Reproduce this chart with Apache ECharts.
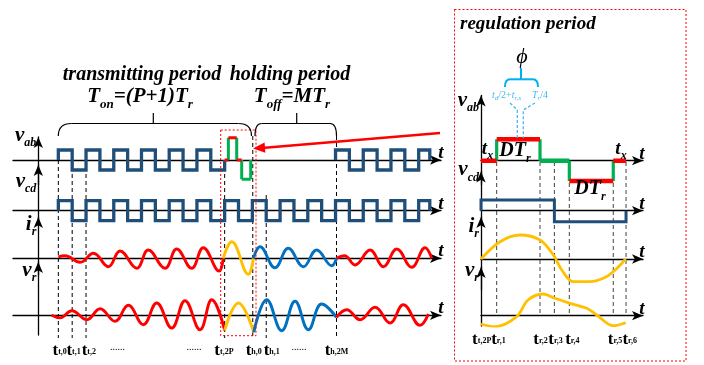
<!DOCTYPE html>
<html><head><meta charset="utf-8">
<script src="https://cdn.jsdelivr.net/npm/echarts@6/dist/echarts.min.js"></script>
<style>html,body{margin:0;padding:0;background:#fff}#c{width:704px;height:365px}</style>
</head><body><div id="c"></div>
<script>
// ================= DATA =================
// Left panel: time in units of Tr/2 (0 = t_t,0). Right panel: time as fraction of Tr (0 = t_t,2P).
// Square waves: edge times and level after each edge
const vabTxEdges   = [0,0,1,2,3,4,5,6,7,8,9,10,11,12];
const vabTxLevels  = [0,10,-10,10,-10,10,-10,10,-10,10,-10,10,-10,0];
const vabHoldEdges = [20,20,21,22,23,24,25,26,26.8];
const vabHoldLevels= [0,10,-10,10,-10,10,-10,10,0];
const vabPulseEdges  = [12,12.27,12.87,13.23,13.88];
const vabPulseLevels = [0,22.3,0,-19.3,0];
const vcdEdges  = [0,0,1,2,3,4,5,6,7,8,9,10,11,12,13,14,15,16,17,18,19,20,21,22,23,24,25,26,26.8];
const vcdLevels = [0,10,-10,10,-10,10,-10,10,-10,10,-10,10,-10,10,-10,10,-10,10,-10,10,-10,10,-10,10,-10,10,-10,10,0];
// Resonant current i_r: [time, value] extremes
const irTx     = [[0,1.5],[0.48,2.6],[1.57,-4],[2.53,5],[3.61,-8.4],[4.45,7.3],[5.66,-10],[6.49,8.3],[7.7,-10],[8.54,9.3],[9.62,-10],[10.46,10.6],[11.6,-12.7],[11.9,0]];
const irReg    = [[11.9,0],[12.51,16.6],[13.71,-16],[14.07,0]];
const irHold   = [[14.07,0],[14.55,11.6],[15.63,-9.4],[16.59,10],[17.68,-8.4],[18.64,8.3],[19.73,-7.4],[20.07,0]];
const irHold2  = [[20.07,0],[20.65,2.6],[21.4,-6.7],[22.49,8.3],[23.45,-8.4],[24.42,9.3],[25.5,-9],[26.46,10.6],[26.94,0]];
// Resonant voltage v_r
const vrTx     = [[-0.48,0],[0.12,-2.6],[0.97,4.6],[2.05,-4.4],[3.01,6.6],[4.09,-6],[5.05,10],[6.13,-9.4],[7.1,12.3],[8.18,-12.7],[9.14,14.6],[10.22,-14.4],[11.07,15.6],[12.0,-15]];
const vrReg    = [[12.0,-15],[12.99,12.3],[14.1,-17]];
const vrHold   = [[14.1,-17],[15.04,15.6],[16.12,-15.4],[17.08,14],[18.04,-14.4],[19.0,11.3],[20.07,-2]];
const vrHold2  = [[20.07,-2],[20.81,5.6],[21.77,-4.4],[22.85,8],[23.93,-7.7],[24.89,10.6],[26.1,-10],[26.7,1.3]];
// Left time marks and bottom tick labels
const leftMarks      = [0,1,2,12,14.03,15,20.07];
const leftLabelPos   = [0.1,1.1,2.2,4.27,9.79,11.95,14.1,15.4,17.37,20.07];
const leftLabelText  = ['t,0','t,1','t,2','...','...','t,2P','h,0','h,1','...','h,2M'];
// Right panel (regulation period)
const rVabEdges  = [0,0.108,0.407,0.609,0.912,1.0];
const rVabLevels = [0,21.4,0,-20.3,0,0];
const rVcdEdges  = [0,0,0.506,1.0];
const rVcdLevels = [0,10.7,-11,0];
const rIr = [[0,0],[0.131,17.3],[0.269,24],[0.407,19],[0.499,4],[0.557,-11],[0.637,-22.7],[0.752,-22.7],[0.843,-19.3],[0.912,-12.7],[0.998,0]];
const rVr = [[0,-8.3],[0.097,-11],[0.246,-1],[0.324,15.7],[0.43,21.7],[0.51,17.4],[0.614,12.4],[0.729,7.4],[0.798,0.7],[0.912,-10],[0.998,-7]];
const rightMarks     = [0.108,0.407,0.506,0.609,0.912,1.0];
const rightLabelPos  = [0.005,0.12,0.41,0.514,0.63,0.924,1.025];
const rightLabelText = ['t,2P','r,1','r,2','r,3','r,4','r,5','r,6'];

// ================= STYLE / LAYOUT =================
const FONT = '"Liberation Serif","Times New Roman",serif';
const C = {navy:'#1f4e79', red:'#ff0000', green:'#00b050', yellow:'#ffc000', blue:'#0070c0', cyan:'#00b0f0', cyanL:'#45b9ee'};
const bi = s => `italic bold ${s}px ${FONT}`;
const panels = {
  L: {left:13, width:428, min:-3.27, max:27.61, yOffset:-25.3, tGap:0,
      rows:[{top:137,base:160,bottom:185,name:['v','ab'],gap:0},
            {top:165,base:210.7,bottom:225,name:['v','cd'],gap:-18},
            {top:217,base:258.3,bottom:275,name:['i','r'],gap:-9},
            {top:262,base:315.3,bottom:335,name:['v','r'],gap:-10}],
      ov:{left:13, width:428, min:-3.27, max:27.61, height:340, margin:2}},
  R: {left:481, width:162, min:0, max:1.117, yOffset:0, tGap:-1,
      rows:[{top:95.5,base:160.7,bottom:185,name:['v','ab'],gap:-6.5},
            {top:171.5,base:210.7,bottom:225,name:['v','cd'],gap:0},
            {top:217,base:259,bottom:290,name:['i','r'],gap:-11},
            {top:267,base:315.7,bottom:326,name:['v','r'],gap:-5}],
      ov:{left:454, width:189, min:-0.1862, max:1.117, height:330, margin:1}}
};
const leftDashTop = [160,160,160,160,136,195,136], leftDashBottom = 338;
const rightDashTop = 162, rightDashBottom = 316;

const grids=[], xAxes=[], yAxes=[], series=[];
const axLine = {color:'#000', width:1.3};
function addRow(p, r) {
  const gi = grids.length;
  grids.push({left:p.left, width:p.width, top:r.top, height:r.bottom-r.top, containLabel:false, outerBoundsMode:'none'});
  xAxes.push({type:'value', gridIndex:gi, min:p.min, max:p.max,
    axisLine:{show:true, onZero:true, symbol:['none','arrow'], symbolSize:[7,11], lineStyle:axLine},
    axisTick:{show:false}, axisLabel:{show:false}, splitLine:{show:false},
    name:'t', nameLocation:'end', nameGap:p.tGap, nameMoveOverlap:false,
    nameTextStyle:{fontFamily:FONT, fontSize:19, fontWeight:'bold', fontStyle:'italic', color:'#000', align:'center', verticalAlign:'bottom', lineHeight:14}});
  yAxes.push({type:'value', gridIndex:gi, min:r.base-r.bottom, max:r.base-r.top, offset:p.yOffset,
    axisLine:{show:true, onZero:false, symbol:['none','arrow'], symbolSize:[7,11], lineStyle:axLine},
    axisTick:{show:false}, axisLabel:{show:false}, splitLine:{show:false},
    name:`{m|${r.name[0]}}{s|${r.name[1]}}`, nameLocation:'end', nameGap:r.gap, nameMoveOverlap:false,
    nameTextStyle:{align:'right', verticalAlign:'middle', padding:[0,2,0,0],
      rich:{m:{fontFamily:FONT, fontSize:21, fontWeight:'bold', fontStyle:'italic', color:'#000', verticalAlign:'bottom', padding:[0,0,3,0]},
            s:{fontFamily:FONT, fontSize:12, fontWeight:'bold', fontStyle:'italic', color:'#000', verticalAlign:'bottom'}}}});
  return gi;
}
// overlay grid: dashed time marks + bottom time labels (empty end labels keep all real labels visible)
function addOverlay(p, pos, text) {
  const o = p.ov, gi = grids.length;
  const vals = [o.min, ...pos, o.max], labs = ['', ...text, ''];
  grids.push({left:o.left, width:o.width, top:0, height:o.height, containLabel:false, outerBoundsMode:'none'});
  xAxes.push({type:'value', gridIndex:gi, min:o.min, max:o.max, position:'bottom',
    axisLine:{show:false, onZero:false}, axisTick:{show:false}, splitLine:{show:false},
    axisLabel:{show:true, customValues:vals, margin:o.margin, hideOverlap:false, showMinLabel:true, showMaxLabel:true,
      formatter:(v)=>{const t=labs[vals.indexOf(v)]; if(!t) return ''; return t==='...' ? '{d|......}' : `{t|t}{s|${t}}`;},
      rich:{t:{fontFamily:FONT, fontSize:17, fontWeight:'bold', color:'#000', verticalAlign:'bottom'},
            s:{fontFamily:FONT, fontSize:8, fontWeight:'bold', color:'#000', verticalAlign:'bottom', padding:[0,0,3,0]},
            d:{fontFamily:FONT, fontSize:10, color:'#000', verticalAlign:'bottom', padding:[0,0,4,0]}}}});
  yAxes.push({type:'value', gridIndex:gi, min:0, max:o.height, inverse:true, show:false});
  return gi;
}
function line(gi, data, color, width, extra) {
  return Object.assign({type:'line', xAxisIndex:gi, yAxisIndex:gi, data, showSymbol:false, symbol:'none',
    silent:true, animation:false, lineStyle:{color, width, join:'miter', cap:'butt'}, z:3}, extra||{});
}
const zip = (a,b) => a.map((v,i)=>[v,b[i]]);
function stepSegs(gi, edges, levels, hColors, vColor, hW, vW) {
  for (let i=0;i<edges.length-1;i++) {
    series.push(line(gi, [[edges[i+1],levels[i]],[edges[i+1],levels[i+1]]], vColor, vW, {z:4}));
    series.push(line(gi, [[edges[i],levels[i]],[edges[i+1],levels[i]]], hColors[i], hW, {z:5}));
  }
}

// ---- left panel
const L = panels.L;
const gLab = addRow(L, L.rows[0]), gLcd = addRow(L, L.rows[1]), gLir = addRow(L, L.rows[2]), gLvr = addRow(L, L.rows[3]);
const gLov = addOverlay(L, leftLabelPos, leftLabelText);
series.push(line(gLab, zip(vabTxEdges, vabTxLevels), C.navy, 3.3, {step:'end'}));
series.push(line(gLab, zip(vabHoldEdges, vabHoldLevels), C.navy, 3.3, {step:'end'}));
stepSegs(gLab, vabPulseEdges, vabPulseLevels, [C.red,C.red,C.red,C.green], C.green, 3, 3);
series.push(line(gLcd, zip(vcdEdges, vcdLevels), C.navy, 3.3, {step:'end'}));
const sm = {smooth:0.42};
series.push(line(gLir, irTx, C.red, 2.9, sm));
series.push(line(gLir, irReg, C.yellow, 2.9, sm));
series.push(line(gLir, irHold, C.blue, 2.9, sm));
series.push(line(gLir, irHold2, C.red, 2.9, sm));
series.push(line(gLvr, vrTx, C.red, 2.9, sm));
series.push(line(gLvr, vrReg, C.yellow, 2.9, sm));
series.push(line(gLvr, vrHold, C.blue, 2.9, sm));
series.push(line(gLvr, vrHold2, C.red, 2.9, sm));
leftMarks.forEach((t,i)=>series.push(line(gLov, [[t,leftDashTop[i]],[t,leftDashBottom]], '#000', 1, {lineStyle:{color:'#000', width:1, type:[4,3]}, z:2})));

// ---- right panel
const R = panels.R;
const gRab = addRow(R, R.rows[0]), gRcd = addRow(R, R.rows[1]), gRir = addRow(R, R.rows[2]), gRvr = addRow(R, R.rows[3]);
const gRov = addOverlay(R, rightLabelPos, rightLabelText);
stepSegs(gRab, rVabEdges, rVabLevels, [C.red,C.red,C.green,C.red,C.red], C.green, 4.5, 3.2);
series.push(line(gRcd, zip(rVcdEdges, rVcdLevels), C.navy, 3, {step:'end'}));
series.push(line(gRir, rIr, C.yellow, 2.8, {smooth:0.35}));
series.push(line(gRvr, rVr, C.yellow, 2.8, {smooth:0.35}));
rightMarks.forEach(t=>series.push(line(gRov, [[t,rightDashTop],[t,rightDashBottom]], '#444', 1, {lineStyle:{color:'#444', width:1, type:[4,3]}, z:2})));

// ---- annotations
const txt = (x,y,text,font,fill,align,rich) => ({type:'text', x, y, z:60, silent:true,
  style:{text, font, fill:fill||'#000', align:align||'center', verticalAlign:'middle', rich}});
const richTS = (m,s,col) => ({m:{font:bi(m), fill:col||'#000', verticalAlign:'bottom', padding:[0,0,Math.round(m*0.18),0]},
                             s:{font:bi(s), fill:col||'#000', verticalAlign:'bottom'}});
function brace(x0, x1, xc, yBar, yEnd, yTip, r, stroke, w) {
  const st = {fill:'none', stroke, lineWidth:w};
  return [
    {type:'bezierCurve', z:50, silent:true, shape:{x1:x0, y1:yEnd, cpx1:x0, cpy1:yBar, x2:x0+r, y2:yBar}, style:st},
    {type:'line', z:50, silent:true, shape:{x1:x0+r, y1:yBar, x2:x1-r, y2:yBar}, style:st},
    {type:'bezierCurve', z:50, silent:true, shape:{x1:x1-r, y1:yBar, cpx1:x1, cpy1:yBar, x2:x1, y2:yEnd}, style:st},
    {type:'line', z:50, silent:true, shape:{x1:xc, y1:yBar, x2:xc, y2:yTip}, style:st}
  ];
}
const cyanSmall = {m:{font:`italic 10px ${FONT}`, fill:C.cyanL, verticalAlign:'bottom', padding:[0,0,2,0]},
                   n:{font:`10px ${FONT}`, fill:C.cyanL, verticalAlign:'bottom', padding:[0,0,2,0]},
                   s:{font:`italic 7px ${FONT}`, fill:C.cyanL, verticalAlign:'bottom'}};
const graphic = [
  {type:'rect', z:50, silent:true, shape:{x:220.7,y:130,width:35.3,height:205.7}, style:{fill:'none', stroke:C.red, lineWidth:1, lineDash:[2,2]}},
  {type:'rect', z:50, silent:true, shape:{x:454.5,y:9.5,width:231.5,height:351.5}, style:{fill:'none', stroke:C.red, lineWidth:1, lineDash:[2,2]}},
  ...brace(58.3, 251.5, 153.3, 123.5, 136, 113, 13, '#000', 1.2),
  ...brace(255, 336.5, 296.7, 123.5, 136, 113, 6.5, '#000', 1.2),
  ...brace(505, 538, 521, 79.3, 87, 68, 5, C.cyan, 2),
  {type:'polyline', z:50, silent:true, shape:{points:[[510,103],[517.3,110],[517.3,138]]}, style:{fill:'none', stroke:C.cyanL, lineWidth:1.3, lineDash:[3,2]}},
  {type:'polyline', z:50, silent:true, shape:{points:[[535,103],[523.3,110],[523.3,138]]}, style:{fill:'none', stroke:C.cyanL, lineWidth:1.3, lineDash:[3,2]}},
  {type:'line', z:55, silent:true, shape:{x1:440,y1:133,x2:262,y2:147.9}, style:{stroke:C.red, lineWidth:2.5}},
  {type:'polygon', z:55, silent:true, shape:{points:[[253,148.6],[265.4,152.8],[264.6,142.4]]}, style:{fill:C.red}},
  txt(142,75,'transmitting period',bi(20)),
  txt(140,99,'{m|T}{s|on}{m|=(P+1)T}{s|r}',null,null,'center',richTS(21,13)),
  txt(290,75,'holding period',bi(20)),
  txt(292,99,'{m|T}{s|off}{m|=MT}{s|r}',null,null,'center',richTS(21,13)),
  txt(460,24,'regulation period',bi(19),'#000','left'),
  txt(522,57,'ϕ',`italic 22px ${FONT}`),
  txt(506.7,96,'{m|t}{s|d}{n|/2+}{m|t}{s|r,x}',null,null,'center',cyanSmall),
  txt(540,96,'{m|T}{s|r}{n|/4}',null,null,'center',cyanSmall),
  txt(487.5,151,'{m|t}{s|x}',null,null,'center',richTS(19,12)),
  txt(621,151,'{m|t}{s|x}',null,null,'center',richTS(19,12)),
  txt(515,153,'{m|DT}{s|r}',null,null,'center',richTS(20,12)),
  txt(590,191,'{m|DT}{s|r}',null,null,'center',richTS(20,12))
];

const chart = echarts.init(document.getElementById('c'), null, {renderer:'canvas'});
chart.setOption({animation:false, backgroundColor:'#fff', grid:grids, xAxis:xAxes, yAxis:yAxes, series, graphic});
</script></body></html>
